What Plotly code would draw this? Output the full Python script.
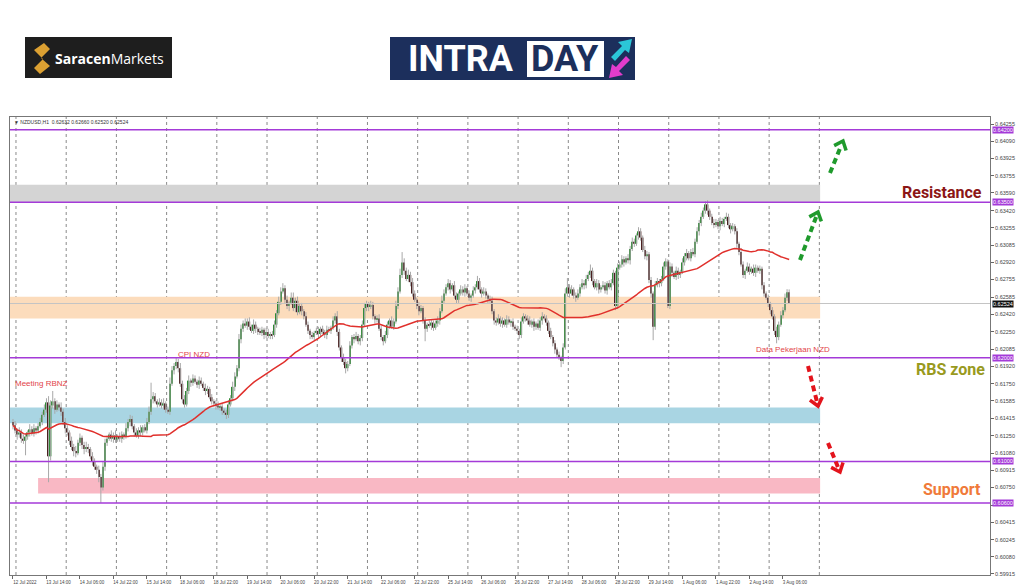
import math
import numpy as np
import pandas as pd
import plotly.graph_objects as go

# NZDUSD H1 closes, in pips (price x 10^4), 16 bars per row
first_open = 6138
closes = [
    6135, 6130, 6126, 6128, 6122, 6120, 6124, 6128, 6131, 6127, 6132, 6130, 6134, 6138, 6145, 6150,
    6157, 6105, 6154, 6158, 6150, 6155, 6152, 6148, 6138, 6132, 6128, 6120, 6114, 6110, 6108, 6118,
    6123, 6116, 6112, 6114, 6112, 6105, 6100, 6095, 6092, 6085, 6075, 6095, 6118, 6122, 6126, 6122,
    6125, 6121, 6124, 6122, 6126, 6124, 6132, 6138, 6141, 6134, 6128, 6125, 6130, 6128, 6133, 6130,
    6138, 6148, 6160, 6163, 6158, 6155, 6157, 6154, 6156, 6150, 6148, 6175, 6188, 6192, 6196, 6190,
    6175, 6160, 6155, 6168, 6178, 6176, 6180, 6177, 6174, 6178, 6175, 6171, 6168, 6170, 6162, 6158,
    6156, 6154, 6152, 6153, 6149, 6147, 6145, 6155, 6161, 6172, 6182, 6190, 6218, 6228, 6233, 6231,
    6235, 6230, 6226, 6232, 6228, 6225, 6224, 6227, 6222, 6225, 6221, 6223, 6222, 6232, 6243, 6254,
    6264, 6267, 6256, 6250, 6253, 6258, 6248, 6255, 6244, 6250, 6245, 6240, 6232, 6226, 6222, 6220,
    6224, 6226, 6223, 6228, 6225, 6222, 6227, 6226, 6229, 6236, 6240, 6225, 6210, 6200, 6196, 6190,
    6194, 6212, 6220, 6218, 6221, 6216, 6219, 6232, 6248, 6252, 6249, 6251, 6240, 6237, 6238, 6228,
    6220, 6216, 6222, 6232, 6236, 6230, 6235, 6250, 6264, 6280, 6292, 6284, 6276, 6280, 6273, 6262,
    6256, 6250, 6245, 6248, 6236, 6228, 6232, 6231, 6234, 6229, 6233, 6236, 6245, 6255, 6262, 6268,
    6272, 6266, 6270, 6260, 6256, 6262, 6266, 6263, 6267, 6262, 6258, 6260, 6265, 6268, 6274, 6266,
    6262, 6264, 6260, 6257, 6255, 6245, 6236, 6234, 6238, 6233, 6236, 6232, 6237, 6234, 6235, 6230,
    6228, 6226, 6222, 6235, 6240, 6238, 6236, 6232, 6235, 6230, 6233, 6229, 6236, 6240, 6238, 6234,
    6226, 6220, 6214, 6208, 6203, 6200, 6197, 6210, 6262, 6268, 6262, 6266, 6260, 6258, 6262, 6268,
    6272, 6270, 6276, 6280, 6284, 6274, 6268, 6272, 6266, 6268, 6270, 6265, 6272, 6268, 6272, 6282,
    6250, 6287, 6290, 6295, 6292, 6296, 6294, 6305, 6312, 6310, 6318, 6322, 6316, 6304, 6298, 6300,
    6275, 6262, 6230, 6270, 6274, 6272, 6276, 6288, 6293, 6250, 6288, 6282, 6278, 6284, 6280, 6283,
    6292, 6298, 6301, 6296, 6302, 6300, 6312, 6322, 6330, 6336, 6342, 6348, 6342, 6336, 6330, 6328,
    6331, 6327, 6332, 6329, 6334, 6336, 6328, 6324, 6327, 6322, 6310, 6302, 6290, 6280, 6284, 6288,
    6283, 6286, 6282, 6287, 6284, 6286, 6270, 6262, 6258, 6252, 6246, 6240, 6226, 6220, 6232, 6241,
    6246, 6258, 6263.2, 6252.4,
]
# wick lengths above / below the body, in pips
upper_wick = [
    3, 4, 2, 5, 3, 4, 3, 2, 5, 3, 4, 2, 3, 4, 3, 5,
    4, 6, 5, 10, 3, 4, 2, 5, 3, 4, 3, 2, 4, 3, 5, 3,
    4, 2, 3, 5, 3, 2, 4, 3, 2, 4, 3, 5, 4, 3, 2, 4,
    3, 5, 2, 4, 3, 2, 5, 3, 4, 3, 2, 4, 3, 5, 2, 3,
    4, 5, 16, 4, 3, 2, 4, 3, 5, 2, 3, 6, 4, 3, 4, 3,
    5, 3, 4, 3, 5, 2, 4, 3, 2, 4, 3, 2, 4, 3, 2, 3,
    2, 3, 4, 2, 3, 2, 3, 4, 3, 5, 4, 3, 5, 4, 3, 5,
    3, 4, 2, 5, 3, 2, 4, 3, 2, 4, 3, 2, 3, 4, 3, 5,
    4, 5, 3, 4, 2, 5, 5, 3, 4, 2, 3, 2, 4, 3, 2, 3,
    2, 3, 4, 2, 3, 2, 4, 3, 2, 4, 3, 5, 3, 2, 4, 3,
    3, 4, 2, 3, 4, 2, 3, 4, 5, 3, 2, 4, 3, 2, 3, 4,
    3, 2, 4, 3, 2, 4, 3, 5, 4, 6, 10, 4, 3, 5, 3, 4,
    3, 2, 4, 3, 2, 3, 2, 4, 3, 2, 3, 4, 3, 5, 4, 3,
    4, 3, 2, 4, 3, 2, 4, 3, 4, 2, 3, 2, 4, 3, 5, 3,
    2, 4, 3, 2, 3, 4, 2, 3, 4, 2, 3, 2, 4, 3, 2, 3,
    2, 3, 2, 4, 3, 2, 3, 4, 2, 3, 2, 4, 3, 4, 2, 3,
    2, 3, 2, 3, 2, 3, 2, 4, 5, 9, 3, 4, 2, 3, 4, 3,
    4, 3, 4, 3, 6, 3, 2, 4, 3, 2, 4, 3, 2, 3, 4, 3,
    2, 4, 3, 4, 3, 2, 4, 3, 4, 3, 2, 4, 3, 2, 4, 3,
    2, 3, 2, 4, 3, 2, 3, 4, 3, 2, 4, 3, 2, 4, 3, 2,
    4, 3, 4, 2, 3, 4, 3, 4, 3, 4, 3, 3, 4, 2, 3, 4,
    3, 2, 4, 3, 2, 4, 3, 2, 3, 2, 3, 2, 4, 3, 2, 4,
    3, 2, 4, 3, 2, 3, 2, 3, 2, 3, 2, 3, 2, 4, 3, 4,
    3, 4, 3, 2.8,
]
lower_wick = [
    4, 3, 5, 3, 4, 3, 14, 3, 4, 2, 3, 4, 3, 2, 3, 2,
    3, 25, 4, 3, 4, 2, 3, 4, 3, 5, 3, 4, 3, 5, 4, 2,
    3, 4, 5, 3, 4, 3, 4, 3, 4, 5, 15, 3, 4, 3, 2, 3,
    4, 3, 2, 3, 4, 3, 2, 3, 4, 3, 4, 2, 3, 4, 3, 2,
    3, 2, 3, 4, 2, 3, 2, 3, 4, 3, 2, 3, 2, 4, 3, 4,
    3, 4, 3, 2, 3, 4, 3, 2, 3, 4, 2, 3, 4, 3, 2, 3,
    3, 4, 2, 3, 4, 2, 4, 3, 2, 3, 4, 2, 3, 4, 3, 2,
    4, 3, 2, 3, 4, 3, 2, 3, 4, 3, 2, 3, 4, 2, 3, 2,
    3, 2, 4, 3, 5, 2, 3, 4, 3, 2, 4, 3, 2, 3, 4, 2,
    3, 2, 4, 3, 2, 3, 4, 2, 3, 2, 3, 4, 3, 4, 3, 5,
    3, 2, 3, 4, 2, 3, 4, 3, 2, 3, 4, 2, 3, 4, 3, 2,
    3, 4, 2, 3, 4, 2, 3, 2, 3, 2, 3, 4, 2, 3, 4, 3,
    2, 3, 4, 2, 3, 12, 3, 2, 4, 3, 2, 3, 4, 2, 3, 2,
    3, 4, 2, 3, 4, 3, 2, 3, 4, 2, 3, 4, 2, 3, 2, 3,
    4, 2, 3, 4, 2, 3, 4, 3, 2, 3, 4, 2, 3, 2, 4, 3,
    2, 3, 4, 3, 2, 3, 4, 2, 3, 4, 3, 2, 3, 4, 2, 3,
    3, 2, 3, 4, 3, 2, 6, 3, 2, 3, 4, 2, 3, 4, 2, 3,
    2, 4, 3, 2, 3, 4, 2, 3, 4, 3, 2, 3, 4, 2, 3, 2,
    4, 3, 2, 3, 4, 2, 3, 4, 2, 3, 2, 4, 3, 2, 3, 4,
    3, 4, 13, 3, 2, 4, 3, 2, 3, 2, 3, 4, 2, 3, 4, 3,
    2, 3, 4, 2, 3, 2, 3, 2, 4, 3, 2, 3, 4, 3, 2, 3,
    2, 3, 4, 2, 3, 2, 3, 4, 2, 3, 4, 3, 2, 3, 4, 2,
    3, 2, 3, 4, 2, 3, 4, 3, 2, 3, 4, 3, 4, 6, 3, 2,
    3, 2, 3, 0.4,
]
assert len(closes) == len(upper_wick) == len(lower_wick)

time_labels = ["12 Jul 2022", "13 Jul 14:00", "14 Jul 06:00", "14 Jul 22:00", "15 Jul 14:00",
               "18 Jul 06:00", "18 Jul 22:00", "19 Jul 14:00", "20 Jul 06:00", "20 Jul 22:00",
               "21 Jul 14:00", "22 Jul 06:00", "22 Jul 22:00", "25 Jul 14:00", "26 Jul 06:00",
               "26 Jul 22:00", "27 Jul 14:00", "28 Jul 06:00", "28 Jul 22:00", "29 Jul 14:00",
               "1 Aug 06:00", "1 Aug 22:00", "2 Aug 14:00", "3 Aug 06:00"]
bars_per_label = 16

price_ticks = [0.64255, 0.64090, 0.63925, 0.63755, 0.63590, 0.63420, 0.63255, 0.63085, 0.62920,
               0.62755, 0.62585, 0.62420, 0.62250, 0.62085, 0.61920, 0.61750, 0.61585, 0.61415,
               0.61250, 0.61080, 0.60915, 0.60750, 0.60580, 0.60415, 0.60245, 0.60080, 0.59915]
hidden_ticks = [0.60580]  # covered by the 0.60600 level label
levels = [0.64200, 0.63500, 0.62000, 0.61000, 0.60600]
last_price = 0.62524
zone_gray = (0.6350, 0.6367)
zone_orange = (0.6238, 0.6259)
zone_blue = (0.6137, 0.6152)
zone_pink = (0.6069, 0.6084)

# chart box in page pixels
L, R, T, B = 10, 990, 117, 575


def px(x):
    return (x - L) / (R - L)


def py(y):
    return (B - y) / (B - T)


c = np.array(closes, dtype=float) / 1e4
o = np.concatenate([[first_open / 1e4], c[:-1]])
hi = np.maximum(o, c) + np.array(upper_wick) / 1e4
lo = np.minimum(o, c) - np.array(lower_wick) / 1e4
n = len(c)
bars = np.arange(n)
ma = pd.Series(c).rolling(50, min_periods=1).mean()

wx, wy = [], []
for i in range(n):
    wx += [i, i, None]
    wy += [lo[i], hi[i], None]

body_col = ["#2f8a35" if c[i] >= o[i] else "#4a2020" for i in range(n)]

fig = go.Figure()
fig.add_trace(go.Scatter(x=wx, y=wy, mode="lines", line=dict(color="#a8a8a8", width=1),
                         hoverinfo="skip"))
fig.add_trace(go.Bar(x=bars, y=np.maximum(np.abs(c - o), 0.00004), base=np.minimum(o, c),
                     width=0.72, marker=dict(color=body_col, line=dict(width=0)), hoverinfo="skip"))
fig.add_trace(go.Scatter(x=bars, y=ma, mode="lines", line=dict(color="#e0302c", width=1.5),
                         hoverinfo="skip"))

x_end = 385.8  # zones end here
shapes = []
for lo_, hi_, col, x0 in [(*zone_gray, "#d4d4d4", -1.5), (*zone_orange, "#fcdcbc", -1.5),
                          (*zone_blue, "#a9d5e3", -1.5), (*zone_pink, "#f9b8c4", 12)]:
    shapes.append(dict(type="rect", xref="x", yref="y", x0=x0, x1=x_end, y0=lo_, y1=hi_,
                       fillcolor=col, line=dict(width=0), layer="below"))
for k in range(17):
    xb = 1.43 + 24 * k
    shapes.append(dict(type="line", xref="x", yref="paper", x0=xb, x1=xb, y0=0, y1=1,
                       line=dict(color="#8a8a8a", width=1, dash="dot"), layer="below"))
shapes.append(dict(type="line", xref="paper", yref="y", x0=0, x1=1, y0=last_price, y1=last_price,
                   line=dict(color="#c4c4c4", width=1)))
for lv in levels:
    shapes.append(dict(type="line", xref="paper", yref="y", x0=0, x1=1, y0=lv, y1=lv,
                       line=dict(color="#a43ad8", width=1.6)))


def arrow(x0, y0, x1, y1, color):
    d = math.hypot(x1 - x0, y1 - y0)
    ux, uy = (x1 - x0) / d, (y1 - y0) / d
    shapes.append(dict(type="line", xref="paper", yref="paper",
                       x0=px(x0), y0=py(y0), x1=px(x1 - ux * 5), y1=py(y1 - uy * 5),
                       line=dict(color=color, width=4, dash="6px,4px")))
    pts = []
    for a in (0.7, -0.7):
        wx_ = x1 - 10 * (ux * math.cos(a) - uy * math.sin(a))
        wy_ = y1 - 10 * (ux * math.sin(a) + uy * math.cos(a))
        pts.append((wx_, wy_))
    path = "M {} {} L {} {} L {} {}".format(px(pts[0][0]), py(pts[0][1]), px(x1), py(y1),
                                            px(pts[1][0]), py(pts[1][1]))
    shapes.append(dict(type="path", xref="paper", yref="paper", path=path,
                       line=dict(color=color, width=3.5)))


arrow(800, 260, 818, 212, "#1f9a2c")
arrow(830, 173, 843, 141, "#1f9a2c")
arrow(808, 366, 818, 406, "#e3141c")
arrow(828, 443, 840, 472, "#e3141c")

# logos
shapes.append(dict(type="rect", xref="paper", yref="paper", x0=px(25), x1=px(172), y0=py(78),
                   y1=py(37), fillcolor="#1e1e1e", line=dict(width=0)))
s_pts = [(44, 43), (50, 49), (41, 58), (50, 66), (40, 74), (34, 68), (43, 59), (34, 50)]
shapes.append(dict(type="path", xref="paper", yref="paper",
                   path="M " + " L ".join("{} {}".format(px(a), py(b)) for a, b in s_pts) + " Z",
                   fillcolor="#dba032", line=dict(width=0)))
shapes.append(dict(type="rect", xref="paper", yref="paper", x0=px(390), x1=px(635), y0=py(80),
                   y1=py(37), fillcolor="#1c2f5c", line=dict(width=0)))
shapes.append(dict(type="rect", xref="paper", yref="paper", x0=px(527), x1=px(604), y0=py(77),
                   y1=py(41), fillcolor="white", line=dict(width=0)))
cyan = [(611, 57), (622, 46), (618, 42), (632, 39), (629, 53), (625, 50), (615, 61)]
mag = [(630, 60), (619, 71), (623, 75), (609, 78), (612, 64), (616, 67), (626, 56)]
for pts, col in [(cyan, "#2bc6d8"), (mag, "#e13ccc")]:
    shapes.append(dict(type="path", xref="paper", yref="paper",
                       path="M " + " L ".join("{} {}".format(px(a), py(b)) for a, b in pts) + " Z",
                       fillcolor=col, line=dict(width=0)))

ann = []


def text(x, y, s, size, color, anchor="center", family="Liberation Sans"):
    ann.append(dict(xref="paper", yref="paper", x=px(x), y=py(y), text=s, showarrow=False,
                    xanchor=anchor, yanchor="middle", font=dict(size=size, color=color, family=family)))


text(12, 122, "\u25bc NZDUSD,H1  0.62632 0.62660 0.62520 0.62524", 5, "#333", "left")
text(41, 383, "Meeting RBNZ", 8, "#e2454a")
text(194, 354, "CPI NZD", 8, "#e2454a")
text(793, 349, "Data Pekerjaan NZD", 8, "#e2454a")
text(942, 192, "<b>Resistance</b>", 16, "#8c1616", family="Roboto")
text(950, 369, "<b>RBS zone</b>", 16, "#999a1e", family="Roboto")
text(952, 489, "<b>Support</b>", 16, "#f07a3a", family="Roboto")
text(109, 58, "<b>Saracen</b>Markets", 14, "white", family="Open Sans")
text(461, 59, "<b>INTRA</b>", 36, "white", family="Roboto")
text(565, 59, "<b>DAY</b>", 36, "#1c2f5c", family="Roboto")

for lv in levels:
    ann.append(dict(xref="paper", yref="y", x=1, y=lv, xanchor="left", xshift=2, showarrow=False,
                    text="%.5f" % lv, bgcolor="#a43ad8", borderpad=0,
                    font=dict(size=5.5, color="white", family="Liberation Sans")))
ann.append(dict(xref="paper", yref="y", x=1, y=last_price, xanchor="left", xshift=2, showarrow=False,
                text="%.5f" % last_price, bgcolor="#111", borderpad=0,
                font=dict(size=5.5, color="white", family="Liberation Sans")))

fig.update_layout(
    width=1024, height=587,
    margin=dict(l=L, r=1024 - R, t=T, b=587 - B),
    paper_bgcolor="white", plot_bgcolor="white",
    showlegend=False, hovermode=False,
    shapes=shapes, annotations=ann,
    xaxis=dict(range=[-1.43, 467.0], tickvals=list(range(0, len(time_labels) * bars_per_label, bars_per_label)),
               ticktext=time_labels, ticks="outside", ticklen=3, tickcolor="#666", tickangle=0,
               tickfont=dict(size=4.5, color="#444", family="Liberation Sans"), ticklabelshift=12,
               automargin=False, showgrid=False, zeroline=False, showline=True, linecolor="#777",
               mirror=True),
    yaxis=dict(side="right", range=[0.59905, 0.64323], tickvals=price_ticks,
               ticktext=["" if v in hidden_ticks else "%.5f" % v for v in price_ticks],
               ticks="outside", ticklen=3, tickcolor="#666", automargin=False,
               tickfont=dict(size=5.5, color="#444", family="Liberation Sans"),
               showgrid=False, zeroline=False, showline=True, linecolor="#777", mirror=True),
)

fig.write_html("out.html", config={"displayModeBar": False},
               post_script="document.body.style.margin='0px';document.body.style.overflow='hidden';")
